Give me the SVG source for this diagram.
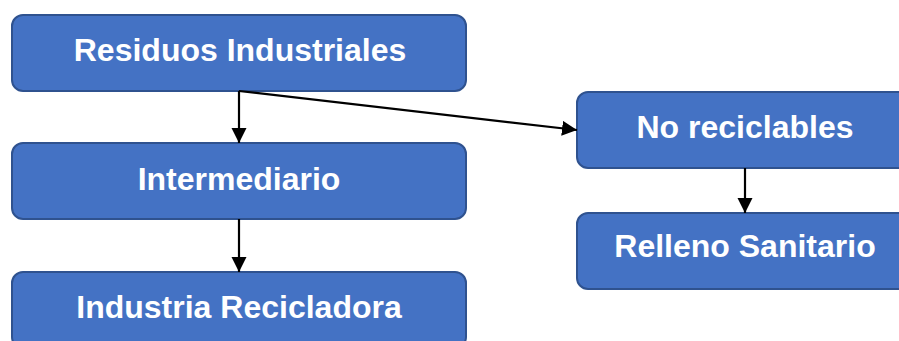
<svg xmlns="http://www.w3.org/2000/svg" width="899" height="341" viewBox="0 0 899 341">
<style>
.box{fill:#4472C4;stroke:#2F528F;stroke-width:2}
.lbl{font-family:"Liberation Sans",Arial,sans-serif;font-weight:bold;font-size:32px;fill:#FFFFFF;text-anchor:middle}
.con{stroke:#000;stroke-width:2.2;fill:none}
</style>
<defs>
<marker id="ah" markerUnits="userSpaceOnUse" markerWidth="16" markerHeight="16" refX="15" refY="7.5" orient="auto">
<path d="M0,0 L15,7.5 L0,15 z" fill="#000"/>
</marker>
</defs>
<rect width="899" height="341" fill="#FFFFFF"/>
<g id="n1"><rect class="box" x="12" y="15" width="454" height="76" rx="11"/><text class="lbl" x="240" y="61">Residuos Industriales</text></g>
<g id="n2"><rect class="box" x="12" y="143" width="454" height="76" rx="11"/><text class="lbl" x="239" y="190">Intermediario</text></g>
<g id="n3"><rect class="box" x="12" y="272" width="454" height="76" rx="11"/><text class="lbl" x="239" y="318">Industria Recicladora</text></g>
<g id="n4"><rect class="box" x="577" y="92" width="336" height="76" rx="11"/><text class="lbl" x="745" y="138">No reciclables</text></g>
<g id="n5"><rect class="box" x="577" y="213" width="336" height="76" rx="11"/><text class="lbl" x="745" y="257">Relleno Sanitario</text></g>
<g id="connectors">
<path class="con" d="M239,91 L239,143" marker-end="url(#ah)"/>
<path class="con" d="M239,91 L577,130" marker-end="url(#ah)"/>
<path class="con" d="M239,219 L239,272" marker-end="url(#ah)"/>
<path class="con" d="M745,168 L745,213" marker-end="url(#ah)"/>
</g>
</svg>
